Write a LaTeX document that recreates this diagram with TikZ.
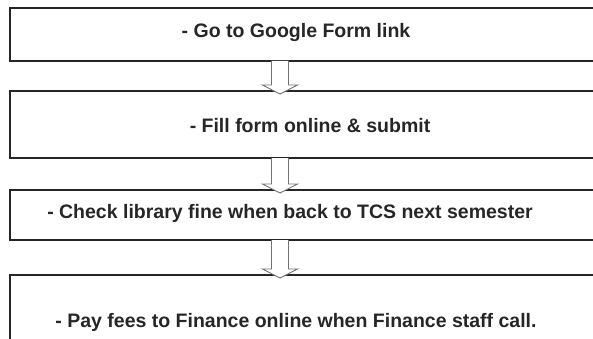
\documentclass[tikz,border=0pt]{standalone}
\usepackage{fontspec}
\setmainfont{Liberation Sans}
\usepackage{tikz}
\usetikzlibrary{calc}

\begin{document}
\begin{tikzpicture}[x=1pt, y=-1pt, every node/.style={inner sep=0pt, outer sep=0pt},
	stepbox/.style={rectangle, draw=black!85, line width=2.8pt, minimum width=620pt},
	hollowarrow/.style={draw=black!55, fill=white, line width=0.9pt, line join=miter},
	steptext/.style={font=\bfseries\fontsize{19.5}{23}\selectfont, text=black!85}]

	\useasboundingbox (0,0) rectangle (593,339);
	\clip (0,0) rectangle (593,339);

	\node[stepbox, minimum height=53pt] (b1) at (320, 34.5) {};
	\node[stepbox, minimum height=67pt] (b2) at (320, 124.5) {};
	\node[stepbox, minimum height=50pt] (b3) at (320, 215) {};
	\node[stepbox, minimum height=125pt] (b4) at (320, 337.5) {};

	\node[steptext] (t1) at (296, 33) {- Go to Google Form link};
	\node[steptext] (t2) at (310, 126) {- Fill form online \& submit};
	\node[steptext] (t3) at (290, 213) {- Check library fine when back to TCS next semester};
	\node[steptext] (t4) at (296, 322) {- Pay fees to Finance online when Finance staff call.};

	% hollow arrows between the steps
	\foreach \s/\t in {b1/b2, b2/b3, b3/b4}{
		\draw[hollowarrow] ($(\s.south -| 280,0)+(-8.5,0)$) -- ($(\t.north -| 280,0)+(-8.5,-6)$)
			-- ($(\t.north -| 280,0)+(-17.5,-6)$) -- ($(\t.north -| 280,0)+(0,3)$)
			-- ($(\t.north -| 280,0)+(17.5,-6)$) -- ($(\t.north -| 280,0)+(8.5,-6)$)
			-- ($(\s.south -| 280,0)+(8.5,0)$);
	}
\end{tikzpicture}
\end{document}
